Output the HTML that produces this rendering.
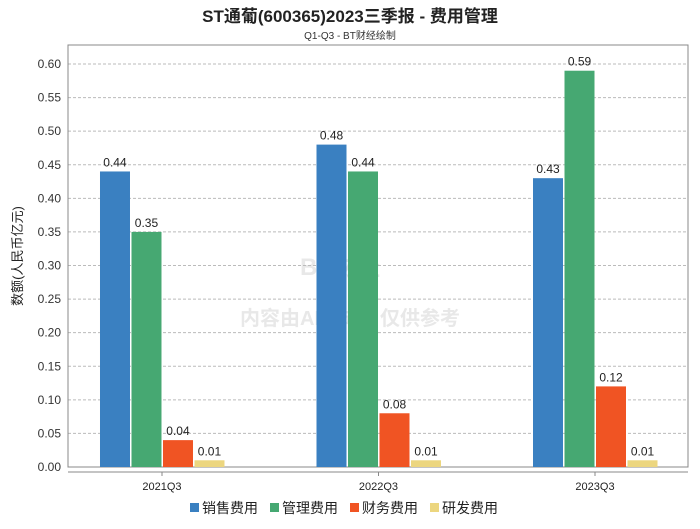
<!DOCTYPE html>
<html><head><meta charset="utf-8"><style>
body{margin:0;background:#fff;width:700px;height:524px;overflow:hidden;font-family:"Liberation Sans","Noto Sans CJK SC",sans-serif}
</style></head><body>
<svg id="c" width="700" height="524" xmlns="http://www.w3.org/2000/svg">
<text x="350" y="22" text-anchor="middle" font-size="17" font-weight="bold" fill="#222">ST通葡(600365)2023三季报 - 费用管理</text>
<text x="350" y="39" text-anchor="middle" font-size="10" fill="#333">Q1-Q3 - BT财经绘制</text>
<text x="340" y="275" text-anchor="middle" font-size="24" font-weight="bold" fill="#e8e8e8">BT财经</text>
<text x="350" y="325" text-anchor="middle" font-size="20" font-weight="bold" fill="#e8e8e8">内容由AI生成，仅供参考</text>
<text x="22" y="256" text-anchor="middle" font-size="13" fill="#222" transform="rotate(-90 22 256)">数额(人民币亿元)</text>
<g id="g"></g>
</svg>
<script>
const categories=["2021Q3","2022Q3","2023Q3"];
const seriesNames=["销售费用","管理费用","财务费用","研发费用"];
const sales=[0.44,0.48,0.43];
const admin=[0.35,0.44,0.59];
const finance=[0.04,0.08,0.12];
const rnd=[0.01,0.01,0.01];
const yTicks=[0,0.05,0.1,0.15,0.2,0.25,0.3,0.35,0.4,0.45,0.5,0.55,0.6];
const colors=["#3a80c1","#46a872","#f05423","#ecd67f"];
const series=[sales,admin,finance,rnd];
const L=68,R=688,T=45,B=467,y0=467,y60=64;
const ns="http://www.w3.org/2000/svg",g=document.getElementById('g');
function y(v){return y0-(v/0.6)*(y0-y60);}
function x(i){return L+(R-L)*(0.1516+i*0.3492);}
function mk(t,a,txt){const e=document.createElementNS(ns,t);for(const k in a)e.setAttribute(k,a[k]);if(txt!=null)e.textContent=txt;g.appendChild(e);return e;}
yTicks.forEach(v=>{
 if(v>0){const l=mk('line',{x1:L,x2:R,y1:y(v),y2:y(v),stroke:'#bbb','stroke-dasharray':'3,2','stroke-width':1});
 
 }
 const t=mk('text',{x:L-7,y:y(v)+4,'text-anchor':'end','font-size':12,fill:'#333'},v.toFixed(2));
 
 
});
const box=mk('rect',{x:L,y:T,width:R-L,height:B-T,fill:'none',stroke:'#888'});


const xa=mk('line',{x1:L,x2:R,y1:472,y2:472,stroke:'#888'});


categories.forEach((c,i)=>{
 const cx=x(i);
 const tk=mk('line',{x1:cx,x2:cx,y1:472,y2:476,stroke:'#888'});
 
 
 const t=mk('text',{x:cx,y:490,'text-anchor':'middle','font-size':11,fill:'#222'},c);
 
 
 series.forEach((s,j)=>{
  const bx=cx-62+j*31.5,v=s[i];
  const r=mk('rect',{x:bx,y:y(v),width:30,height:y0-y(v),fill:colors[j]});
  
  
  const lt=mk('text',{x:bx+15,y:y(v)-5,'text-anchor':'middle','font-size':12,fill:'#222'},v.toFixed(2));
  
  
 });
});
let lx=190;
seriesNames.forEach((n,j)=>{
 const r=mk('rect',{x:lx,y:503,width:9,height:9,fill:colors[j]});
 
 
 const t=mk('text',{x:lx+12,y:513,'font-size':14,fill:'#222'},n);
 
 
 lx+=80;
});
</script>
</body></html>
